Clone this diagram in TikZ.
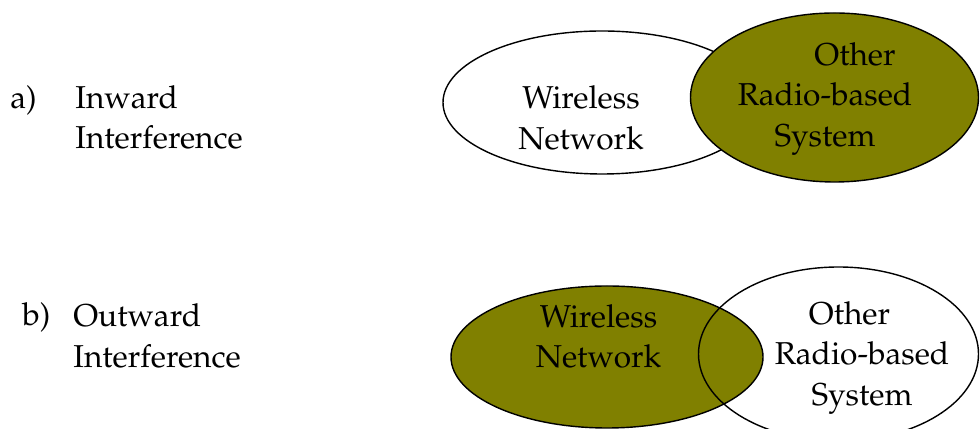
\documentclass[tikz,border=0pt]{standalone}
\usepackage[T1]{fontenc}
\usepackage{mathpazo}
\usepackage{tikz}
\usetikzlibrary{shapes.geometric}
\definecolor{olivefill}{RGB}{128,128,0}

\begin{document}
\begin{tikzpicture}[font=\fontsize{18}{23}\selectfont,
    venn/.style={ellipse, draw, line width=0.8pt, inner sep=0pt},
    label/.style={align=center, inner sep=0pt}]
            \useasboundingbox (0,0) rectangle (19.6,8.58);
            % Ellipses a)
            \node[venn, fill=white, minimum width=6.36cm, minimum height=2.86cm] (WNa) at (12.04,6.53) {};
            \node[venn, fill=olivefill, minimum width=5.76cm, minimum height=3.38cm] (ORa) at (16.69,6.63) {};
            % Ellipses b)
            \node[venn, fill=olivefill, minimum width=6.24cm, minimum height=2.84cm] (WNb) at (12.14,1.44) {};
            \node[venn, minimum width=5.6cm, minimum height=3.48cm] (ORb) at (16.77,1.5) {};

            % Texts
            \node[label] (WNtexta) at (11.62,6.22) {Wireless\\Network};
            \node[label] (ORtexta) at (16.5,6.60) {\hspace*{1.2cm}Other\\Radio-based\\System};
            \node[label] (WNtextb) at (11.97,1.85) {Wireless\\Network};
            \node[label] (ORtextb) at (17.24,1.42) {Other\hspace*{0.5cm}\\Radio-based\\System};

            % Captions
            \node[anchor=west, inner sep=0pt] (capa) at (0.2,6.58) {a)};
            \node[anchor=west, align=left, inner sep=0pt] (capatext) at (1.5,6.23) {Inward\\Interference};
            \node[anchor=west, inner sep=0pt] (capb) at (0.44,2.24) {b)};
            \node[anchor=west, align=left, inner sep=0pt] (capbtext) at (1.46,1.86) {Outward\\Interference};
        \end{tikzpicture}
\end{document}
